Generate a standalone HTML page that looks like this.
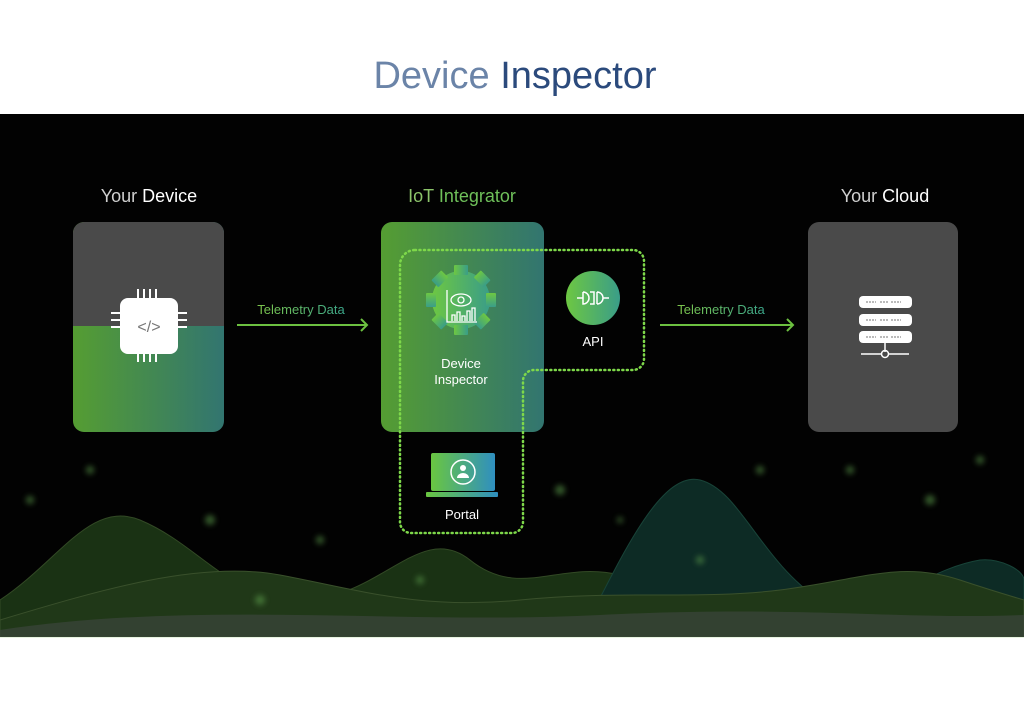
<!DOCTYPE html>
<html><head><meta charset="utf-8"><style>
html,body{margin:0;padding:0;background:#fff;width:1024px;height:717px;overflow:hidden}
svg{display:block}
text{font-family:"Liberation Sans","DejaVu Sans",sans-serif}
</style></head><body>
<svg width="1024" height="717" viewBox="0 0 1024 717" xmlns="http://www.w3.org/2000/svg">
<defs>
<linearGradient id="g1" x1="0" y1="0" x2="1" y2="0"><stop offset="0" stop-color="#559d32"/><stop offset="1" stop-color="#327570"/></linearGradient>
<linearGradient id="g2" x1="0" y1="0" x2="1" y2="0"><stop offset="0" stop-color="#6dc742"/><stop offset="1" stop-color="#3a9d88"/></linearGradient>
<linearGradient id="g3" x1="0" y1="0" x2="1" y2="0"><stop offset="0" stop-color="#6ac640"/><stop offset="1" stop-color="#2f8fc0"/></linearGradient>
<linearGradient id="tg" x1="0" y1="0" x2="1" y2="0"><stop offset="0" stop-color="#7cc44a"/><stop offset="1" stop-color="#3aa58a"/></linearGradient>
<filter id="bl"><feGaussianBlur stdDeviation="3"/></filter>
</defs>
<text x="515" y="88" text-anchor="middle" font-size="38" fill="#2b4a7c"><tspan fill="#6b84a8" style="font-weight:100">Device</tspan> <tspan>Inspector</tspan></text>
<rect x="0" y="114" width="1024" height="523" fill="#020202"/>
<!-- waves -->
<g opacity="0.4" stroke-width="1">
<path d="M0 600 C60 560 90 500 140 520 C200 545 230 600 300 600 C380 600 420 520 470 560 C520 600 560 560 620 575 C700 600 760 600 800 610 L800 637 L0 637Z" fill="#3f7a2f" stroke="#7ab35a"/>
<path d="M580 637 C620 560 660 470 700 480 C740 490 760 560 820 600 C880 620 920 570 980 560 C1000 558 1024 570 1024 580 L1024 637Z" fill="#1f6a5a" stroke="#3aa58a"/>
<path d="M0 620 C100 590 200 560 280 575 C360 590 420 610 520 600 C620 590 700 600 780 590 C860 580 900 560 960 580 C990 590 1024 600 1024 600 L1024 637 L0 637Z" fill="#4f8a3a" stroke="#8cc46a"/>
<path d="M0 630 C200 600 400 625 600 615 C800 605 900 620 1024 615 L1024 637 L0 637Z" fill="#8aa688" opacity="0.8"/>
</g>
<g fill="#5a9a4a" filter="url(#bl)" opacity="0.6">
<circle cx="210" cy="520" r="5"/><circle cx="320" cy="540" r="4"/><circle cx="90" cy="470" r="4"/><circle cx="560" cy="490" r="5"/><circle cx="850" cy="470" r="4"/><circle cx="930" cy="500" r="5"/><circle cx="260" cy="600" r="5"/><circle cx="700" cy="560" r="4"/><circle cx="980" cy="460" r="4"/><circle cx="420" cy="580" r="4"/><circle cx="30" cy="500" r="4"/><circle cx="760" cy="470" r="4"/><circle cx="620" cy="520" r="3"/>
</g>
<!-- headers -->
<text x="149" y="202" text-anchor="middle" font-size="18" fill="#cfcfcf"><tspan>Your</tspan> <tspan fill="#fff">Device</tspan></text>
<text x="462" y="202" text-anchor="middle" font-size="18"><tspan fill="#8cc46a">IoT</tspan> <tspan fill="#6fc05a">Integrator</tspan></text>
<text x="885" y="202" text-anchor="middle" font-size="18" fill="#cfcfcf"><tspan>Your</tspan> <tspan fill="#fff">Cloud</tspan></text>
<!-- left card -->
<clipPath id="c1"><rect x="73" y="222" width="151" height="210" rx="11"/></clipPath>
<g clip-path="url(#c1)"><rect x="73" y="222" width="151" height="210" fill="url(#g1)"/><rect x="73" y="222" width="151" height="104" fill="#4a4a4a"/></g>
<g stroke="#fff" stroke-width="2"><path d="M138 289v10M144 289v10M150 289v10M156 289v10M138 352v10M144 352v10M150 352v10M156 352v10M111 313h10M111 320h10M111 327h10M177 313h10M177 320h10M177 327h10"/></g>
<rect x="120" y="298" width="58" height="56" rx="8" fill="#fff"/>
<text x="149" y="332" text-anchor="middle" font-size="16" fill="#777">&lt;/&gt;</text>
<!-- arrow1 -->
<text x="301" y="314" text-anchor="middle" font-size="13" fill="url(#tg)">Telemetry Data</text>
<path d="M237 325H367M361 319l6 6-6 6" stroke="#6cc040" stroke-width="2" fill="none"/>
<!-- middle card -->
<rect x="381" y="222" width="163" height="210" rx="11" fill="url(#g1)"/>
<path d="M415 250H633a11 11 0 0 1 11 11V359a11 11 0 0 1-11 11H534a11 11 0 0 0-11 11V522a11 11 0 0 1-11 11H411a11 11 0 0 1-11-11V265a15 15 0 0 1 15-15Z" fill="none" stroke="#7ed84a" stroke-width="2.5" stroke-dasharray="1 3.5" stroke-linecap="round"/>
<!-- gear -->
<g fill="url(#g2)">
<circle cx="461" cy="300" r="29"/>
<g id="t"><rect x="454" y="265" width="14" height="10" rx="1"/><rect x="454" y="325" width="14" height="10" rx="1"/></g>
<use href="#t" transform="rotate(45 461 300)"/><use href="#t" transform="rotate(90 461 300)"/><use href="#t" transform="rotate(135 461 300)"/>
</g>
<g stroke="#fff" stroke-width="1.3" fill="none"><path d="M447 290v32h30"/><ellipse cx="461" cy="300" rx="10" ry="6"/><circle cx="461" cy="300" r="3"/><path d="M452 321v-6h3v6M457 321v-9h3v9M462 321v-5h3v5M467 321v-10h3v10M472 321v-13h3v13"/></g>
<text x="461" y="368" text-anchor="middle" font-size="13" fill="#fff">Device</text>
<text x="461" y="384" text-anchor="middle" font-size="13" fill="#fff">Inspector</text>
<!-- API -->
<circle cx="593" cy="298" r="27" fill="url(#g2)"/>
<g stroke="#fff" stroke-width="1.5" fill="none"><path d="M577 298h6M583 292v12a6 6 0 0 0 0-12M590 292h4v12h-4M597 292v12M597 292a6 6 0 0 1 0 12M603 298h6"/></g>
<text x="593" y="346" text-anchor="middle" font-size="13" fill="#fff">API</text>
<!-- portal -->
<rect x="431" y="453" width="64" height="38" rx="2" fill="url(#g3)"/>
<rect x="426" y="492" width="72" height="5" rx="1" fill="url(#g3)"/>
<circle cx="463" cy="472" r="12" fill="none" stroke="#fff" stroke-width="1.5"/>
<circle cx="463" cy="468" r="3" fill="#fff"/><path d="M457 478a6 5 0 0 1 12 0Z" fill="#fff"/>
<text x="462" y="519" text-anchor="middle" font-size="13" fill="#fff">Portal</text>
<!-- arrow2 -->
<text x="721" y="314" text-anchor="middle" font-size="13" fill="url(#tg)">Telemetry Data</text>
<path d="M660 325H793M787 319l6 6-6 6" stroke="#6cc040" stroke-width="2" fill="none"/>
<!-- right card -->
<rect x="808" y="222" width="150" height="210" rx="11" fill="#4a4a4a"/>
<g fill="#fff"><rect x="859" y="296" width="53" height="12" rx="4"/><rect x="859" y="314" width="53" height="12" rx="4"/><rect x="859" y="331" width="53" height="12" rx="4"/></g>
<g stroke="#fff" stroke-width="1.5" fill="none"><path d="M885 343v9M861 354h20M889 354h20"/><circle cx="885" cy="354" r="3.5"/></g>
<g stroke="#777" stroke-width="1"><path d="M866 302h10M880 302h8M891 302h10M866 320h10M880 320h8M891 320h10M866 337h10M880 337h8M891 337h10" stroke-dasharray="2 1"/></g>
</svg>
</body></html>
